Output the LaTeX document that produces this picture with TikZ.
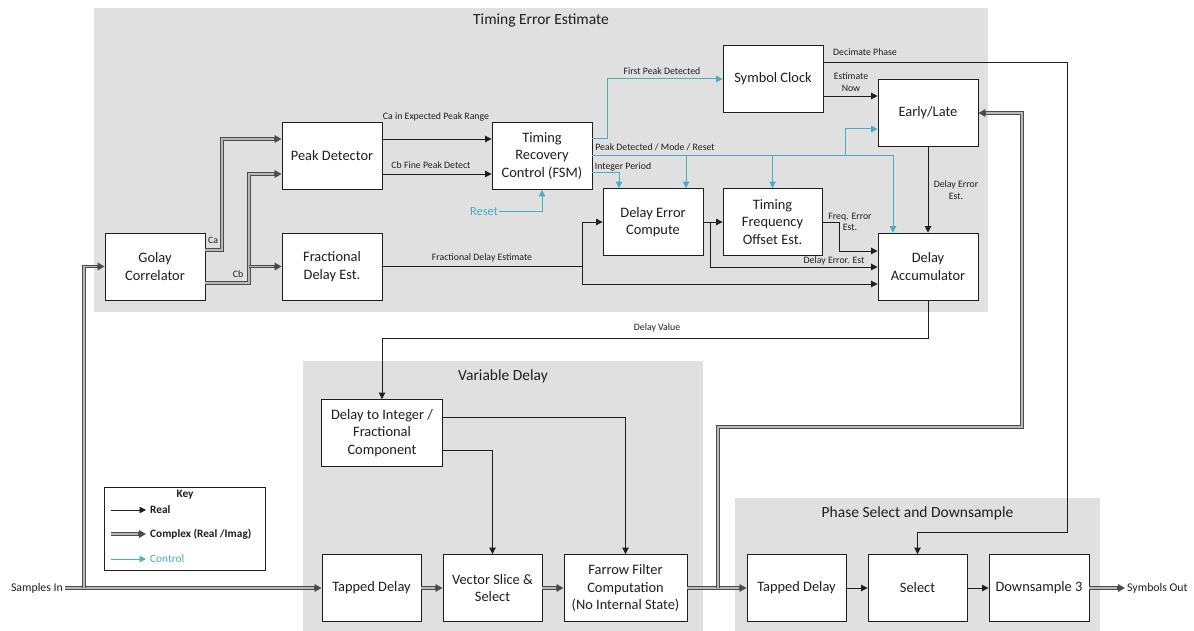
\documentclass[tikz,border=0pt]{standalone}
\usepackage{fontspec}
\setmainfont{Carlito}
\usetikzlibrary{arrows.meta,calc}
\definecolor{ctrl}{RGB}{75,172,198}
\definecolor{panel}{RGB}{224,224,224}
\definecolor{ink}{RGB}{30,30,30}
\begin{document}
\begin{tikzpicture}[x=1pt,y=-1pt,
  box/.style={draw=ink, fill=white, line width=0.9pt, minimum width=100pt,
    minimum height=67pt, align=center, inner sep=1pt,
    font=\fontsize{14.4}{17.5}\selectfont, text=ink},
  lbl/.style={font=\fontsize{9.8}{11.5}\selectfont, text=ink, align=center, inner sep=0pt},
  heading/.style={font=\fontsize{15.5}{18}\selectfont, text=ink, inner sep=0pt},
  io/.style={font=\fontsize{11.8}{14}\selectfont, text=ink, inner sep=2pt},
  tipa/.style={-{Triangle[length=6.5pt,width=6.5pt]}},
  real/.style={draw=ink, line width=0.9pt, tipa},
  ctl/.style={draw=ctrl, line width=1pt, tipa},
  % complex signal: dark band with a lighter core, solid tip
  cplx/.style={draw=ink!80, line width=3.2pt, -{Triangle[length=7pt,width=7.5pt]},
    postaction={draw=gray!55, line width=1.1pt, -, shorten >=8pt}},
  cplxbare/.style={draw=ink!80, line width=3.2pt,
    postaction={draw=gray!55, line width=1.1pt}},
  keytxt/.style={font=\bfseries\fontsize{11.3}{13}\selectfont, text=ink, inner sep=0pt}
]
\useasboundingbox (0,0) rectangle (1194,631);

% panels
\fill[panel] (94,8) rectangle (988,312);
\fill[panel] (303,361) rectangle (703,631);
\fill[panel] (735,498) rectangle (1100,631);
\node[heading] (h1) at (541,20) {Timing Error Estimate};
\node[heading] (h2) at (503,376) {Variable Delay};
\node[heading] (h3) at (917.5,513) {Phase Select and Downsample};

% timing error estimate blocks
\node[box] (golay) at (155,266.5) {Golay\\Correlator};
\node[box] (peak) at (332,156) {Peak Detector};
\node[box] (frac) at (332,266.5) {Fractional\\Delay Est.};
\node[box] (trc) at (542,156) {Timing\\Recovery\\Control (FSM)};
\node[box] (sym) at (773,79) {Symbol Clock};
\node[box] (early) at (928,112.5) {Early/Late};
\node[box] (dec) at (653,222) {Delay Error\\Compute};
\node[box, minimum width=99pt] (tfo) at (772.5,222) {Timing\\Frequency\\Offset Est.};
\node[box] (acc) at (928,266.5) {Delay\\Accumulator};

% variable delay blocks
\node[box, minimum width=121pt] (d2i) at (382,433) {Delay to Integer /\\Fractional\\Component};
\node[box, minimum width=99pt] (td1) at (371.5,588) {Tapped Delay};
\node[box, minimum width=99pt] (vss) at (492.5,588) {Vector Slice \&\\Select};
\node[box, minimum width=123pt] (far) at (625.5,588) {Farrow Filter\\Computation\\(No Internal State)};

% phase select blocks
\node[box, minimum width=99pt] (td2) at (796.5,588) {Tapped Delay};
\node[box, minimum width=99pt] (sel) at (917.5,588) {Select};
\node[box] (ds3) at (1039,588) {Downsample 3};

% inputs / outputs
\node[io, anchor=east] (sin) at (65,588) {Samples In};
\node[io, anchor=west] (sout) at (1125,588) {Symbols Out};
\node[font=\fontsize{12.4}{14}\selectfont, text=ctrl, inner sep=1pt] (reset) at (484,212) {Reset};

% input distribution
\coordinate (split) at (84,588);
\draw[cplx] (sin.east) -- (td1.west);
\draw[cplx] (split) |- (golay.west);

% correlator outputs
\draw[cplx] (golay.east |- 0,250) -- (222,250) -- (222,139) -- (peak.west |- 0,139);
\draw[cplx] (golay.east |- 0,283) -- (249,283) -- (249,174) -- (peak.west |- 0,174);
\draw[cplx] (249,266.5) -- (frac.west);
\node[lbl] (lca) at (213,240) {Ca};
\node[lbl] (lcb) at (238,274) {Cb};

% peak detector to FSM
\draw[real] (peak.east |- 0,139) -- (trc.west |- 0,139);
\draw[real] (peak.east |- 0,174) -- (trc.west |- 0,174);
\node[lbl] (l1) at (436,117) {Ca in Expected Peak Range};
\node[lbl] (l2) at (431,165) {Cb Fine Peak Detect};
\draw[ctl] (reset.east) -| (trc.south);

% FSM control outputs
\draw[ctl] (trc.east |- 0,139) -- (607,139) |- (sym.west);
\node[lbl] (l3) at (662,71) {First Peak Detected};
\draw[ctl] (trc.east) -- (893,156) -- (acc.north -| 893,0);
\draw[ctl] (686,156) -- (dec.north -| 686,0);
\draw[ctl] (tfo.north |- 0,156) -- (tfo.north);
\draw[ctl] (845,156) |- (early.west |- 0,129);
\node[lbl] (l4) at (655,147) {Peak Detected / Mode / Reset};
\draw[ctl] (trc.east |- 0,173) -- (619,173) -- (dec.north -| 619,0);
\node[lbl] (l5) at (623,167) {Integer Period};

% fractional delay estimate
\draw[real] (frac.east) -- (582,266.5) |- (dec.west);
\draw[real] (582,266.5) |- (acc.west |- 0,284);
\node[lbl] (l6) at (482,258) {Fractional Delay Estimate};

% delay error paths
\draw[real] (dec.east) -- (tfo.west);
\draw[real] (710,222) |- (acc.west |- 0,267);
\node[lbl] (l7) at (834,261) {Delay Error. Est};
\draw[real] (tfo.east) -- (839,222) |- (acc.west |- 0,251);
\node[lbl] (l8) at (850,222) {Freq. Error\\Est.};

% symbol clock outputs
\draw[real] (sym.east |- 0,96) -- (early.west |- 0,96);
\node[lbl] (l9) at (851,82) {Estimate\\Now};
\draw[real] (sym.east |- 0,62) -- (1067,62) -- (1067,532) -| (sel.north);
\node[lbl] (l10) at (865,52) {Decimate Phase};

% early/late and accumulator
\draw[real] (early.south) -- (acc.north);
\node[lbl] (l11) at (956,190) {Delay Error\\Est.};
\draw[real] (acc.south) -- (928,338) -| (d2i.north);
\node[lbl] (l12) at (657,328) {Delay Value};

% variable delay internals
\draw[real] (d2i.east |- 0,417) -| (far.north);
\draw[real] (d2i.east |- 0,450) -| (vss.north);
\draw[cplx] (td1) -- (vss);
\draw[cplx] (vss) -- (far);

% interpolated samples
\draw[cplx] (far.east) -- (td2.west);
\draw[cplx] (718,588) -- (718,427) -- (1022,427) -- (1022,113) -- (early.east |- 0,113);

% phase select chain
\draw[real] (td2) -- (sel);
\draw[real] (sel) -- (ds3);
\draw[cplx] (ds3.east) -- (sout.west);

% key
\node[draw=ink, fill=white, line width=0.9pt, minimum width=161pt, minimum height=83pt] (key) at (184.5,528.5) {};
\node[keytxt] (ktitle) at (185,495) {Key};
\node[keytxt, anchor=west] (kreal) at (150,510) {Real};
\node[keytxt, anchor=west] (kcplx) at (150,534) {Complex (Real /Imag)};
\node[keytxt, anchor=west, text=ctrl, font=\fontsize{11.3}{13}\selectfont] (kctl) at (150,559) {Control};
\draw[real] ($(kreal.west)+(-39,0)$) -- ($(kreal.west)+(-4,0)$);
\draw[cplx] ($(kcplx.west)+(-39,0)$) -- ($(kcplx.west)+(-4,0)$);
\draw[ctl] ($(kctl.west)+(-39,0)$) -- ($(kctl.west)+(-4,0)$);
\end{tikzpicture}
\end{document}
